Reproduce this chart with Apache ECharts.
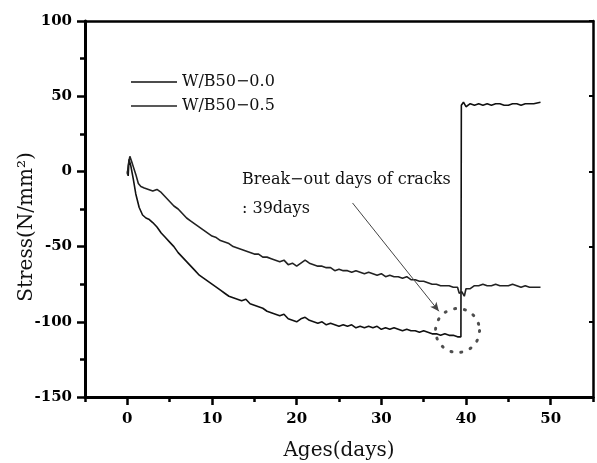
<!DOCTYPE html>
<html>
<head>
<meta charset="utf-8">
<script src="https://cdn.jsdelivr.net/npm/echarts@6/dist/echarts.min.js"></script>
<style>
  html, body { margin: 0; padding: 0; background: #fff; }
  #main { width: 597px; height: 463px; }
</style>
</head>
<body>
<div id="main"></div>
<script>
// stress vs age
var seriesNames = ['W/B50−0.0', 'W/B50−0.5'];

// lower curve, cracks at ~39 days and jumps up
var stressLow = [
  [0,0],[0.1,-3],[0.2,8],[0.4,4],[0.7,-5],[1,-15],[1.4,-24],[1.8,-29],[2.2,-31],[2.6,-32],
  [3,-34],[3.5,-37],[4,-41],[4.5,-44],[5,-47],[5.5,-50],[6,-54],[6.5,-57],[7,-60],[7.5,-63],
  [8,-66],[8.5,-69],[9,-71],[9.5,-73],[10,-75],[10.5,-77],[11,-79],[11.5,-81],[12,-83],[12.5,-84],
  [13,-85],[13.5,-86],[14,-85],[14.5,-88],[15,-89],[15.5,-90],[16,-91],[16.5,-93],[17,-94],[17.5,-95],
  [18,-96],[18.5,-95],[19,-98],[19.5,-99],[20,-100],[20.5,-98],[21,-97],[21.5,-99],[22,-100],[22.5,-101],
  [23,-100],[23.5,-102],[24,-101],[24.5,-102],[25,-103],[25.5,-102],[26,-103],[26.5,-102],[27,-104],[27.5,-103],
  [28,-104],[28.5,-103],[29,-104],[29.5,-103],[30,-105],[30.5,-104],[31,-105],[31.5,-104],[32,-105],[32.5,-106],
  [33,-105],[33.5,-106],[34,-106],[34.5,-107],[35,-106],[35.5,-107],[36,-108],[36.5,-108],[37,-109],[37.5,-108],
  [38,-109],[38.5,-109],[39,-110],[39.4,-110],[39.45,44],[39.7,46],[40,43],[40.5,45],[41,44],[41.5,45],
  [42,44],[42.5,45],[43,44],[43.5,45],[44,45],[44.5,44],[45,44],[45.5,45],[46,45],[46.5,44],
  [47,45],[47.5,45],[48,45],[48.8,46]
];

// upper curve
var stressHigh = [
  [0,-2],[0.1,4],[0.3,10],[0.6,5],[1,-2],[1.3,-8],[1.6,-10],[2,-11],[2.5,-12],[3,-13],
  [3.5,-12],[4,-14],[4.5,-17],[5,-20],[5.5,-23],[6,-25],[6.5,-28],[7,-31],[7.5,-33],[8,-35],
  [8.5,-37],[9,-39],[9.5,-41],[10,-43],[10.5,-44],[11,-46],[11.5,-47],[12,-48],[12.5,-50],[13,-51],
  [13.5,-52],[14,-53],[14.5,-54],[15,-55],[15.5,-55],[16,-57],[16.5,-57],[17,-58],[17.5,-59],[18,-60],
  [18.5,-59],[19,-62],[19.5,-61],[20,-63],[20.5,-61],[21,-59],[21.5,-61],[22,-62],[22.5,-63],[23,-63],
  [23.5,-64],[24,-64],[24.5,-66],[25,-65],[25.5,-66],[26,-66],[26.5,-67],[27,-66],[27.5,-67],[28,-68],
  [28.5,-67],[29,-68],[29.5,-69],[30,-68],[30.5,-70],[31,-69],[31.5,-70],[32,-70],[32.5,-71],[33,-70],
  [33.5,-72],[34,-72],[34.5,-73],[35,-73],[35.5,-74],[36,-75],[36.5,-75],[37,-76],[37.5,-76],[38,-76],
  [38.5,-77],[39,-77],[39.2,-81],[39.5,-80],[39.8,-83],[40,-78],[40.5,-78],[41,-76],[41.5,-76],[42,-75],
  [42.5,-76],[43,-76],[43.5,-75],[44,-76],[44.5,-76],[45,-76],[45.5,-75],[46,-76],[46.5,-77],[47,-76],
  [47.5,-77],[48,-77],[48.8,-77]
];

var xMajorTicks = [0, 10, 20, 30, 40, 50];
var xMinorTicks = [-5, 5, 15, 25, 35, 45, 55];
var crackPoint = [39.0, -105.8];
var arrowFrom = [26.6, -21];
var arrowTo = [36.8, -93];
var noteLines = ['Break−out days of cracks', ': 39days'];

var serif = 'DejaVu Serif';
var chart = echarts.init(document.getElementById('main'), null, { renderer: 'canvas' });

var option = {
  animation: false,
  backgroundColor: '#fff',
  grid: { left: 85, right: 4, top: 21, bottom: 66, containLabel: false, outerBoundsMode: 'none' },
  legend: {
    data: seriesNames,
    orient: 'vertical',
    left: 126,
    top: 69,
    itemWidth: 46,
    itemHeight: 12,
    itemGap: 8,
    textStyle: { fontFamily: serif, fontSize: 16, color: '#111' },
    icon: 'path://M0,5 L46,5 L46,6.5 L0,6.5 Z'
  },
  xAxis: [
    {
      type: 'value',
      min: -5,
      max: 55,
      position: 'bottom',
      name: 'Ages(days)',
      nameLocation: 'middle',
      nameGap: 44,
      nameMoveOverlap: false,
      nameTextStyle: { fontFamily: serif, fontSize: 20, color: '#111' },
      axisLine: { onZero: false, lineStyle: { color: '#000', width: 3 } },
      axisTick: { customValues: xMajorTicks, length: 8, lineStyle: { color: '#000', width: 2.5 } },
      axisLabel: { customValues: xMajorTicks, margin: 15, fontFamily: serif, fontWeight: 'bold', fontSize: 15, color: '#000' },
      splitLine: { show: false }
    },
    {
      type: 'value',
      min: -5,
      max: 55,
      position: 'bottom',
      axisLine: { show: false, onZero: false },
      axisTick: { customValues: xMinorTicks, length: 5, lineStyle: { color: '#000', width: 2.5 } },
      axisLabel: { show: false },
      splitLine: { show: false }
    },
    {
      type: 'value',
      min: -5,
      max: 55,
      position: 'top',
      axisLine: { onZero: false, lineStyle: { color: '#000', width: 2.5 } },
      axisTick: { show: false },
      axisLabel: { show: false },
      splitLine: { show: false }
    }
  ],
  yAxis: [
    {
      type: 'value',
      min: -150,
      max: 100,
      interval: 50,
      position: 'left',
      name: 'Stress(N/mm²)',
      nameLocation: 'middle',
      nameGap: 48,
      nameMoveOverlap: false,
      nameTextStyle: { fontFamily: serif, fontSize: 20, color: '#111', padding: [0, 36, 0, 0] },
      axisLine: { onZero: false, lineStyle: { color: '#000', width: 3 } },
      axisTick: { length: 8, lineStyle: { color: '#000', width: 2.5 } },
      minorTick: { show: true, splitNumber: 2, length: 5, lineStyle: { color: '#000', width: 2.5 } },
      axisLabel: { margin: 13, fontFamily: serif, fontWeight: 'bold', fontSize: 15, color: '#000' },
      splitLine: { show: false }
    },
    {
      type: 'value',
      min: -150,
      max: 100,
      interval: 50,
      position: 'right',
      axisLine: { onZero: false, lineStyle: { color: '#000', width: 2.5 } },
      axisTick: { inside: true, length: 4, lineStyle: { color: '#000', width: 2 } },
      axisLabel: { show: false },
      splitLine: { show: false }
    }
  ],
  series: [
    {
      name: seriesNames[0],
      type: 'line',
      data: stressLow,
      symbol: 'none',
      color: '#111',
      lineStyle: { color: '#111', width: 1.6 }
    },
    {
      name: seriesNames[1],
      type: 'line',
      data: stressHigh,
      symbol: 'none',
      color: '#222',
      lineStyle: { color: '#222', width: 1.6 }
    },
    {
      name: 'crack',
      type: 'scatter',
      data: [crackPoint],
      symbol: 'circle',
      symbolSize: 44,
      silent: true,
      itemStyle: {
        color: 'rgba(0,0,0,0)',
        borderColor: '#222',
        borderWidth: 3,
        borderType: [1, 9],
        borderCap: 'round'
      },
      markLine: {
        silent: true,
        symbol: ['none', 'arrow'],
        symbolSize: [6, 9],
        label: { show: false },
        lineStyle: { color: '#444', width: 1, type: 'solid' },
        data: [[{ coord: arrowFrom }, { coord: arrowTo }]]
      }
    }
  ],
  graphic: [
    { type: 'text', x: 242, y: 172, style: { text: noteLines[0], font: '16px "DejaVu Serif"', fill: '#111' } },
    { type: 'text', x: 242, y: 201, style: { text: noteLines[1], font: '16px "DejaVu Serif"', fill: '#111' } }
  ]
};

chart.setOption(option);
</script>
</body>
</html>
